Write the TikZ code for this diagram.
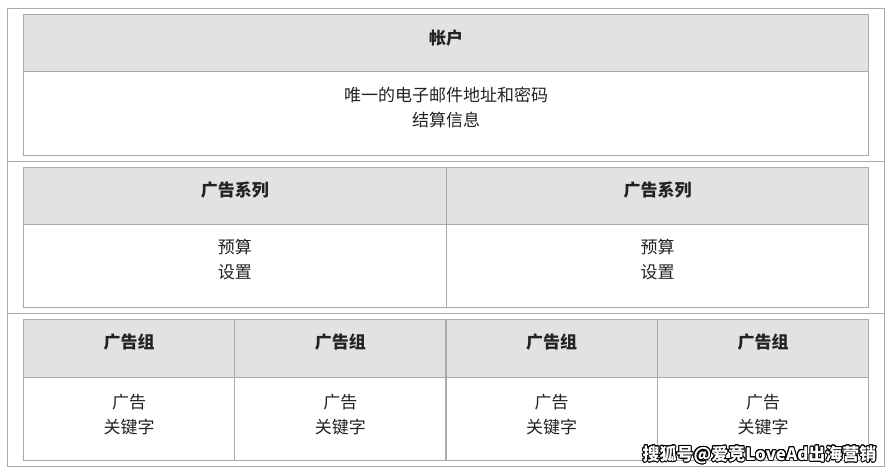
\documentclass[tikz,border=0pt]{standalone}
\usepackage{fontspec}
\setmainfont{Noto Sans CJK SC}
\usepackage{contour}
\contourlength{0.9pt}
\definecolor{bordergray}{HTML}{AAAAAA}
\definecolor{headfill}{HTML}{E2E2E2}
\definecolor{txt}{HTML}{222222}
\begin{document}
\begin{tikzpicture}[x=1pt,y=-1pt,
  cell/.style={draw=bordergray,line width=1pt,rectangle,inner sep=0pt,outer sep=0pt},
  headcell/.style={cell,fill=headfill},
  bodycell/.style={cell,fill=white},
  headtxt/.style={font=\fontsize{17}{25}\selectfont\bfseries,text=txt,inner sep=0pt},
  bodytxt/.style={font=\fontsize{17}{25}\selectfont,text=txt,align=center,inner sep=0pt},
  frame/.style={draw=bordergray,line width=1pt}]
\useasboundingbox (0,0) rectangle (894,474);
\fill[white] (0,0) rectangle (894,474);
% outer frame and separators
\draw[frame] (7.3,8.3) rectangle (884.3,466);
\coordinate (s1l) at (7.3,161.3); \coordinate (s1r) at (884.3,161.3);
\coordinate (s2l) at (7.3,313.7); \coordinate (s2r) at (884.3,313.7);
\draw[frame] (s1l) -- (s1r);
\draw[frame] (s2l) -- (s2r);
% Box 1: account
\node[headcell,minimum width=845.4pt,minimum height=57pt] (acch) at (446,42.8) {};
\node[bodycell,minimum width=845.4pt,minimum height=84pt] (accb) at (446,113.3) {};
\node[headtxt] (acct) at (446,38) {帐户};
\node[bodytxt] (accd) at (446,107.5) {唯一的电子邮件地址和密码\\结算信息};
% Box 2: campaigns
\foreach \i/\cx in {1/234.8,2/657.5}{
  \node[headcell,minimum width=422.4pt,minimum height=57pt] (camh\i) at (\cx,195.8) {};
  \node[bodycell,minimum width=422.4pt,minimum height=82.7pt] (camb\i) at (\cx,265.65) {};
  \node[headtxt] (camt\i) at (\cx,190) {广告系列};
  \node[bodytxt] (camd\i) at (\cx,260) {预算\\设置};
}
% Box 3: ad groups
\foreach \i/\cx in {1/129,2/340.3,3/551.7,4/763}{
  \node[headcell,minimum width=211.35pt,minimum height=58.2pt] (grph\i) at (\cx,348.6) {};
  \node[bodycell,minimum width=211.35pt,minimum height=82.3pt] (grpb\i) at (\cx,418.85) {};
  \node[headtxt] (grpt\i) at (\cx,342.5) {广告组};
  \node[bodytxt] (grpd\i) at (\cx,414.2) {广告\\关键字};
}
% watermark
\node[inner sep=0pt,font=\fontsize{17}{20}\selectfont\bfseries] (wm) at (759.5,455) {\contour{black}{\textcolor{white}{搜狐号@爱竞LoveAd出海营销}}};
\end{tikzpicture}
\end{document}
